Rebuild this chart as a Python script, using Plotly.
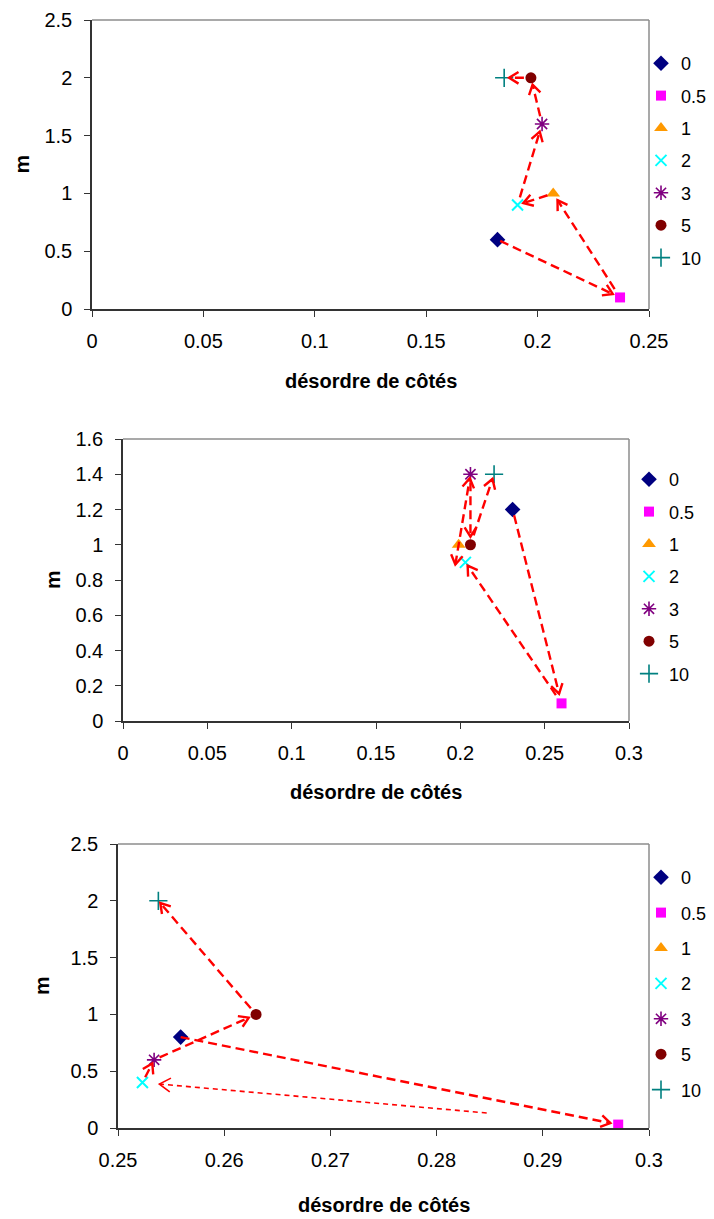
import math
import plotly.graph_objects as go

# ---------------- data ----------------
series_labels = ["0", "0.5", "1", "2", "3", "5", "10"]

p1_x = [0.182, 0.237, 0.207, 0.191, 0.202, 0.197, 0.185]
p1_y = [0.6, 0.1, 1.0, 0.9, 1.6, 2.0, 2.0]

p2_x = [0.231, 0.260, 0.199, 0.203, 0.206, 0.206, 0.220]
p2_y = [1.2, 0.1, 1.0, 0.9, 1.4, 1.0, 1.4]

p3_x = [0.2559, 0.2971, None, 0.2523, 0.2534, 0.2630, 0.2538]
p3_y = [0.8, 0.03, None, 0.4, 0.6, 1.0, 2.0]

# arrows: (from label, to label)
p1_arrows = [("0", "0.5"), ("0.5", "1"), ("1", "2"), ("2", "3"), ("3", "5"), ("5", "10")]
p2_arrows = [("0", "0.5"), ("0.5", "2"), ("1", "3"), ("3", "5"), ("5", "10")]
p3_arrows = [("0", "0.5"), ("0.5", "2"), ("2", "3"), ("3", "5"), ("5", "10")]

p1_xticks = [0, 0.05, 0.1, 0.15, 0.2, 0.25]
p1_xtext = ["0", "0.05", "0.1", "0.15", "0.2", "0.25"]
p1_yticks = [0, 0.5, 1, 1.5, 2, 2.5]
p1_ytext = ["0", "0.5", "1", "1.5", "2", "2.5"]

p2_xticks = [0, 0.05, 0.1, 0.15, 0.2, 0.25, 0.3]
p2_xtext = ["0", "0.05", "0.1", "0.15", "0.2", "0.25", "0.3"]
p2_yticks = [0, 0.2, 0.4, 0.6, 0.8, 1.0, 1.2, 1.4, 1.6]
p2_ytext = ["0", "0.2", "0.4", "0.6", "0.8", "1", "1.2", "1.4", "1.6"]

p3_xticks = [0.25, 0.26, 0.27, 0.28, 0.29, 0.3]
p3_xtext = ["0.25", "0.26", "0.27", "0.28", "0.29", "0.3"]
p3_yticks = [0, 0.5, 1, 1.5, 2, 2.5]
p3_ytext = ["0", "0.5", "1", "1.5", "2", "2.5"]

x_title = "désordre de côtés"
y_title = "m"

# ---------------- styles / layout ----------------
W, H = 714, 1219
OFF = 8  # page body margin in the browser
FONT = "Liberation Sans, Arial, sans-serif"

marker_styles = {
    "0": dict(symbol="diamond", size=12, color="#000080"),
    "0.5": dict(symbol="square", size=10, color="#FF00FF"),
    "1": dict(symbol="triangle-up", size=12, color="#FF9900"),
    "2": dict(symbol="x-thin-open", size=11, color="#00FFFF", line=dict(width=2, color="#00FFFF")),
    "3": dict(symbol="asterisk-open", size=12, color="#800080", line=dict(width=1.6, color="#800080")),
    "5": dict(symbol="circle", size=11, color="#800000"),
    "10": dict(symbol="cross-thin-open", size=13, color="#008080", line=dict(width=1.6, color="#008080")),
}

# pixel boxes of plot areas (screen px): (left, right, top, bottom)
panels = [
    dict(box=(92, 649, 20, 309), xr=(0, 0.25), yr=(0, 2.5), xs=p1_x, ys=p1_y, arrows=p1_arrows,
         xt=(p1_xticks, p1_xtext), yt=(p1_yticks, p1_ytext), legend_top=45, legend_x=641, lgap=6,
         ytitle_x=21, xtitle_y=381),
    dict(box=(123, 629, 439, 721), xr=(0, 0.3), yr=(0, 1.6), xs=p2_x, ys=p2_y, arrows=p2_arrows,
         xt=(p2_xticks, p2_xtext), yt=(p2_yticks, p2_ytext), legend_top=461, legend_x=629, lgap=6,
         ytitle_x=52, xtitle_y=792),
    dict(box=(118, 649, 844, 1128), xr=(0.25, 0.3), yr=(0, 2.5), xs=p3_x, ys=p3_y, arrows=p3_arrows,
         xt=(p3_xticks, p3_xtext), yt=(p3_yticks, p3_ytext), legend_top=859, legend_x=641, lgap=9,
         ytitle_x=42, xtitle_y=1205),
]

# per-arrow trims in px (start, end) and options
arrow_opts = {
    (0, ("0", "0.5")): dict(s=3, e=8),
    (0, ("0.5", "1")): dict(s=10, e=8),
    (0, ("1", "2")): dict(s=6, e=6),
    (0, ("2", "3")): dict(s=8, e=8),
    (0, ("3", "5")): dict(s=8, e=7),
    (0, ("5", "10")): dict(s=7, e=5),
    (1, ("0", "0.5")): dict(s=6, e=10),
    (1, ("0.5", "2")): dict(s=10, e=4),
    (1, ("1", "3")): dict(s=-20, e=4, both=True),
    (1, ("3", "5")): dict(s=8, e=8),
    (1, ("5", "10")): dict(s=10, e=5),
    (2, ("0", "0.5")): dict(s=0, e=8),
    (2, ("0.5", "2")): dict(s=132, e=17, thin=True),
    (2, ("2", "3")): dict(s=6, e=4),
    (2, ("3", "5")): dict(s=6, e=8),
    (2, ("5", "10")): dict(s=8, e=3),
}

def pxX(v):
    return (v - OFF) / W

def pxY(v):
    return 1 - (v - OFF) / H

fig = go.Figure()

def px(p, x, y):
    l, r, t, b = p["box"]
    X = l + (x - p["xr"][0]) / (p["xr"][1] - p["xr"][0]) * (r - l)
    Y = b - (y - p["yr"][0]) / (p["yr"][1] - p["yr"][0]) * (b - t)
    return X, Y

def dt(p, X, Y):
    l, r, t, b = p["box"]
    x = p["xr"][0] + (X - l) / (r - l) * (p["xr"][1] - p["xr"][0])
    y = p["yr"][0] + (b - Y) / (b - t) * (p["yr"][1] - p["yr"][0])
    return x, y

for i, p in enumerate(panels):
    ax = "" if i == 0 else str(i + 1)
    l, r, t, b = p["box"]
    lg = "legend" if i == 0 else f"legend{i + 1}"
    for k, lab in enumerate(series_labels):
        ms = dict(marker_styles[lab])
        fig.add_trace(go.Scatter(
            x=[p["xs"][k]], y=[p["ys"][k]], mode="markers", name=lab,
            marker=ms, xaxis="x" + ax, yaxis="y" + ax, legend=lg,
            legendgroup=f"g{i}_{lab}", showlegend=True, cliponaxis=False,
        ))
    # arrows
    for a in p["arrows"]:
        o = arrow_opts.get((i, a), dict(s=6, e=8))
        fi, ti = series_labels.index(a[0]), series_labels.index(a[1])
        X0, Y0 = px(p, p["xs"][fi], p["ys"][fi])
        X1, Y1 = px(p, p["xs"][ti], p["ys"][ti])
        L = math.hypot(X1 - X0, Y1 - Y0)
        ux, uy = (X1 - X0) / L, (Y1 - Y0) / L
        sX, sY = X0 + ux * o["s"], Y0 + uy * o["s"]
        eX, eY = X1 - ux * o["e"], Y1 - uy * o["e"]
        thin = o.get("thin", False)
        lw = 1.6 if thin else 2.4
        dash = "5px,4px" if thin else "9px,5px"
        (xa, ya), (xb, yb) = dt(p, sX, sY), dt(p, eX, eY)
        fig.add_trace(go.Scatter(x=[xa, xb], y=[ya, yb], mode="lines",
                                 line=dict(color="#FF0000", width=lw, dash=dash),
                                 xaxis="x" + ax, yaxis="y" + ax, showlegend=False,
                                 hoverinfo="skip", cliponaxis=False))
        heads = [(eX, eY, ux, uy)]
        if o.get("both"):
            heads.append((sX, sY, -ux, -uy))
        hl = 13 if thin else 11
        ang = math.radians(32)
        for (tx, ty, dx, dy) in heads:
            pts = []
            for sgn in (1, -1):
                ca, sa = math.cos(sgn * ang), math.sin(sgn * ang)
                rx = -(dx * ca - dy * sa)
                ry = -(dx * sa + dy * ca)
                pts.append((tx + rx * hl, ty + ry * hl))
            hx, hy = [], []
            for (Xp, Yp) in [pts[0], (tx, ty), pts[1]]:
                xx, yy = dt(p, Xp, Yp)
                hx.append(xx)
                hy.append(yy)
            fig.add_trace(go.Scatter(x=hx, y=hy, mode="lines",
                                     line=dict(color="#FF0000", width=lw),
                                     xaxis="x" + ax, yaxis="y" + ax, showlegend=False,
                                     hoverinfo="skip", cliponaxis=False))

    xd = [pxX(l), pxX(r)]
    yd = [pxY(b), pxY(t)]
    axis_common = dict(showgrid=False, zeroline=False, showline=True, linecolor="#333333",
                       linewidth=1.5, ticks="outside", ticklen=6, tickwidth=1.3,
                       tickcolor="#333333", tickfont=dict(family=FONT, size=20, color="#000"),
                       fixedrange=True, automargin=False, ticklabeloverflow="allow")
    fig.layout["xaxis" + ax] = dict(domain=xd, range=list(p["xr"]), anchor="y" + ax,
                                    tickvals=p["xt"][0], ticktext=p["xt"][1],
                                    ticklabelstandoff=7, **axis_common)
    fig.layout["yaxis" + ax] = dict(domain=yd, range=list(p["yr"]), anchor="x" + ax,
                                    tickvals=p["yt"][0], ticktext=p["yt"][1],
                                    ticklabelstandoff=8, **axis_common)
    # top/right frame in gray
    fig.add_shape(type="line", xref="paper", yref="paper", x0=xd[0], x1=xd[1], y0=yd[1], y1=yd[1],
                  line=dict(color="#8c8c8c", width=1.5))
    fig.add_shape(type="line", xref="paper", yref="paper", x0=xd[1], x1=xd[1], y0=yd[0], y1=yd[1],
                  line=dict(color="#8c8c8c", width=1.5))
    # axis titles
    fig.add_annotation(text=f"<b>{x_title}</b>", xref="paper", yref="paper",
                       x=pxX((l + r) / 2), y=pxY(p["xtitle_y"]), showarrow=False,
                       font=dict(family=FONT, size=20, color="#000"), xanchor="center", yanchor="middle")
    fig.add_annotation(text=f"<b>{y_title}</b>", xref="paper", yref="paper",
                       x=pxX(p["ytitle_x"]), y=pxY((t + b) / 2), showarrow=False, textangle=-90,
                       font=dict(family=FONT, size=21, color="#000"), xanchor="center", yanchor="middle")
    fig.layout[lg] = dict(x=pxX(p["legend_x"]), y=pxY(p["legend_top"]), xanchor="left", yanchor="top",
                          font=dict(family=FONT, size=18, color="#000"), bgcolor="rgba(0,0,0,0)",
                          tracegroupgap=p["lgap"], itemwidth=30, itemclick=False, itemdoubleclick=False)

fig.update_layout(width=W, height=H, margin=dict(l=0, r=0, t=0, b=0, autoexpand=False),
                  paper_bgcolor="white", plot_bgcolor="white", showlegend=True,
                  hovermode=False)

fig.write_html("out.html", config={"displayModeBar": False})
